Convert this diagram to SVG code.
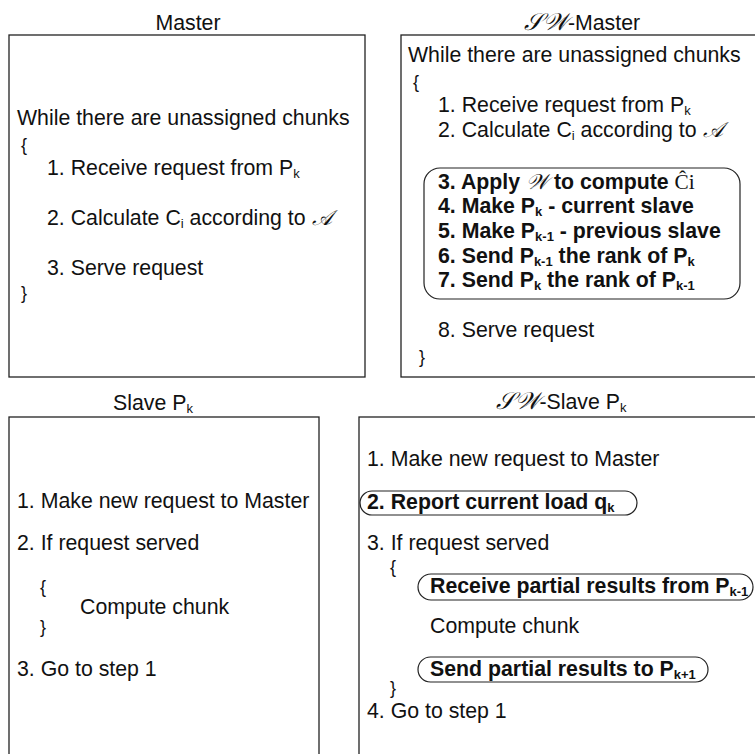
<svg xmlns="http://www.w3.org/2000/svg" width="755" height="754" viewBox="0 0 755 754">
  <style>
    text { font-family: "Liberation Sans", Arial, sans-serif; font-size: 21.3px; fill: #111; }
    .title { text-anchor: middle; }
    .b { font-weight: bold; }
    .sub { font-size: 13px; }
    .brace { font-size: 18px; }
    .script { font-family: "DejaVu Serif", "Liberation Serif", serif; font-style: italic; font-weight: normal; }
    .hat { font-family: "Liberation Serif", serif; font-weight: normal; }
    .box { fill: #fff; stroke: #222; stroke-width: 1.3; }
    .pill { fill: none; stroke: #222; stroke-width: 1.2; }
  </style>
  <rect width="755" height="754" fill="#fff"/>

  <!-- plain master loop -->
  <g id="master">
    <text class="title" x="188" y="30">Master</text>
    <rect class="box" x="9" y="35" width="356" height="342"/>
    <text x="17" y="125">While there are unassigned chunks</text>
    <text class="brace" x="21" y="151">{</text>
    <text x="47" y="175">1. Receive request from P<tspan class="sub" dy="3">k</tspan></text>
    <text x="47" y="225">2. Calculate C<tspan class="sub" dy="3">i</tspan><tspan dy="-3"> according to </tspan><tspan class="script">𝒜</tspan></text>
    <text x="47" y="275">3. Serve request</text>
    <text class="brace" x="21" y="299">}</text>
  </g>

  <!-- sliding-window master loop -->
  <g id="sw-master">
    <text class="title" x="582" y="30"><tspan class="script" font-size="24">𝒮𝒲</tspan>-Master</text>
    <rect class="box" x="401" y="35" width="360" height="342"/>
    <text x="408" y="62">While there are unassigned chunks</text>
    <text class="brace" x="413" y="88">{</text>
    <text x="438" y="112">1. Receive request from P<tspan class="sub" dy="3">k</tspan></text>
    <text x="438" y="137">2. Calculate C<tspan class="sub" dy="3">i</tspan><tspan dy="-3"> according to </tspan><tspan class="script">𝒜</tspan></text>
    <rect class="pill" x="424" y="168" width="316" height="131" rx="16"/>
    <text class="b" x="438" y="189">3. Apply <tspan class="script">𝒲</tspan> to compute <tspan class="hat">Ĉi</tspan></text>
    <text class="b" x="438" y="213">4. Make P<tspan class="sub" dy="3">k</tspan><tspan dy="-3"> - current slave</tspan></text>
    <text class="b" x="438" y="238">5. Make P<tspan class="sub" dy="3">k-1</tspan><tspan dy="-3"> - previous slave</tspan></text>
    <text class="b" x="438" y="263">6. Send P<tspan class="sub" dy="3">k-1</tspan><tspan dy="-3"> the rank of P</tspan><tspan class="sub" dy="3">k</tspan></text>
    <text class="b" x="438" y="287">7. Send P<tspan class="sub" dy="3">k</tspan><tspan dy="-3"> the rank of P</tspan><tspan class="sub" dy="3">k-1</tspan></text>
    <text x="438" y="337">8. Serve request</text>
    <text class="brace" x="419" y="363">}</text>
  </g>

  <!-- plain slave loop -->
  <g id="slave">
    <text class="title" x="153" y="410">Slave P<tspan class="sub" dy="3">k</tspan></text>
    <rect class="box" x="9" y="417" width="310" height="350"/>
    <text x="17" y="508">1. Make new request to Master</text>
    <text x="17" y="550">2. If request served</text>
    <text class="brace" x="40" y="593">{</text>
    <text x="80" y="614">Compute chunk</text>
    <text class="brace" x="40" y="633">}</text>
    <text x="17" y="676">3. Go to step 1</text>
  </g>

  <!-- sliding-window slave loop -->
  <g id="sw-slave">
    <text class="title" x="561" y="409"><tspan class="script" font-size="24">𝒮𝒲</tspan>-Slave P<tspan class="sub" dy="3">k</tspan></text>
    <rect class="box" x="359" y="417" width="400" height="350"/>
    <text x="367" y="466">1. Make new request to Master</text>
    <rect class="pill" x="360" y="491" width="277" height="24" rx="12"/>
    <text class="b" x="367" y="509">2. Report current load q<tspan class="sub" dy="3">k</tspan></text>
    <text x="367" y="550">3. If request served</text>
    <text class="brace" x="390" y="573">{</text>
    <rect class="pill" x="418" y="574" width="335" height="26" rx="13"/>
    <text class="b" x="430" y="593">Receive partial results from P<tspan class="sub" dy="3">k-1</tspan></text>
    <text x="430" y="633">Compute chunk</text>
    <rect class="pill" x="418" y="657" width="290" height="25" rx="12.5"/>
    <text class="b" x="430" y="676">Send partial results to P<tspan class="sub" dy="3">k+1</tspan></text>
    <text class="brace" x="390" y="694">}</text>
    <text x="367" y="718">4. Go to step 1</text>
  </g>
</svg>
